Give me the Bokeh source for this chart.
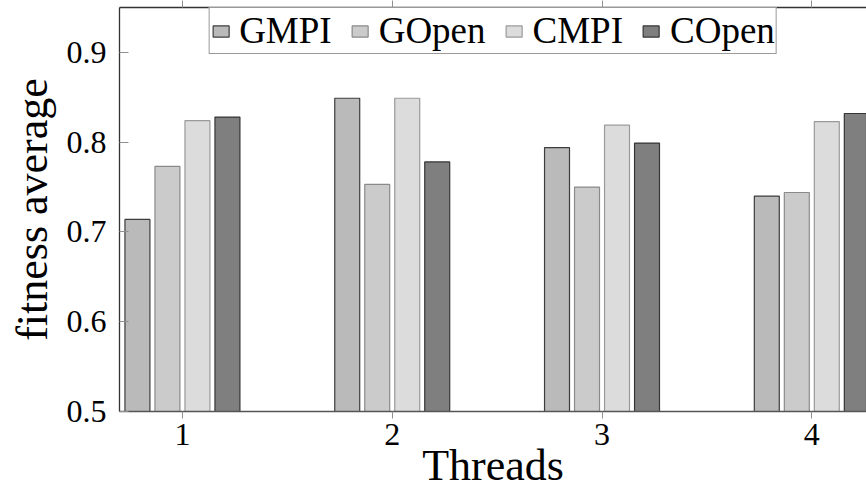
from bokeh.plotting import figure
from bokeh.models import ColumnDataSource, Range1d, FixedTicker, Legend, LegendItem, LinearAxis
from bokeh.transform import dodge
from bokeh.embed import file_html
from bokeh.resources import INLINE

threads = [1, 2, 3, 4]
gmpi = [0.714, 0.849, 0.794, 0.740]
gopen = [0.773, 0.753, 0.750, 0.744]
cmpi = [0.824, 0.849, 0.819, 0.823]
copen = [0.828, 0.778, 0.799, 0.832]
series_names = ["GMPI", "GOpen", "CMPI", "COpen"]
y_ticks = [0.5, 0.6, 0.7, 0.8, 0.9]

fills = ["#bababa", "#cbcbcb", "#dcdcdc", "#7f7f7f"]
lines = ["#3c3c3c", "#8a8a8a", "#9a9a9a", "#353535"]

src = ColumnDataSource(dict(threads=threads, GMPI=gmpi, GOpen=gopen, CMPI=cmpi, COpen=copen))

FONT = "Liberation Serif"

p = figure(output_backend="svg", toolbar_location=None,
           frame_width=747, frame_height=404,
           x_range=Range1d(0.7, 4.2607), y_range=Range1d(0.5, 0.9501),
           min_border_left=119, min_border_right=0, min_border_top=7, min_border_bottom=81)
p.outline_line_color = None
p.xgrid.visible = False
p.ygrid.visible = False
p.background_fill_color = "white"
p.border_fill_color = "white"

step = 0.143
width = 0.119
offsets = [-1.5 * step, -0.5 * step, 0.5 * step, 1.5 * step]
renderers = []
for name, off, fc, lc in zip(series_names, offsets, fills, lines):
    r = p.vbar(x=dodge("threads", off, range=p.x_range), top=name, bottom=0.5, width=width,
               source=src, fill_color=fc, line_color=lc, line_width=1.2)
    renderers.append(r)

xa = p.below[0]
ya = p.left[0]

# top frame edge with outward ticks (no labels drawn)
top = LinearAxis(ticker=FixedTicker(ticks=threads))
top.minor_tick_line_color = None
top.major_tick_in = 0
top.major_tick_out = 7
top.major_tick_line_color = "#909090"
top.axis_line_color = "#333333"
top.axis_line_width = 1.3
top.major_label_text_font_size = "0px"
top.major_label_text_color = None
top.major_label_standoff = 0
p.add_layout(top, "above")

xa.ticker = FixedTicker(ticks=threads)
xa.minor_tick_line_color = None
xa.major_tick_in = 0
xa.major_tick_out = 7
xa.major_tick_line_color = "#909090"
xa.axis_line_color = "#555555"
xa.axis_line_width = 1.3
xa.major_label_text_font = FONT
xa.major_label_text_font_size = "32px"
xa.major_label_text_color = "black"
xa.major_label_text_line_height = 1.0
xa.major_label_standoff = 5
xa.axis_label = "Threads"
xa.axis_label_text_font = FONT
xa.axis_label_text_font_size = "44px"
xa.axis_label_text_font_style = "normal"
xa.axis_label_text_color = "black"
xa.axis_label_text_line_height = 0.7
xa.axis_label_standoff = -7

ya.ticker = FixedTicker(ticks=y_ticks)
ya.minor_tick_line_color = None
ya.major_tick_in = 9
ya.major_tick_out = 0
ya.major_tick_line_color = "#909090"
ya.axis_line_color = "#333333"
ya.axis_line_width = 1.3
ya.major_label_text_font = FONT
ya.major_label_text_font_size = "32px"
ya.major_label_text_color = "black"
ya.major_label_standoff = 13
ya.axis_label = "fitness average"
ya.axis_label_text_font = FONT
ya.axis_label_text_font_size = "44px"
ya.axis_label_text_font_style = "normal"
ya.axis_label_text_color = "black"
ya.axis_label_standoff = 7

legend = Legend(items=[LegendItem(label=n, renderers=[r]) for n, r in zip(series_names, renderers)],
                orientation="horizontal", location="top_center", margin=0,
                padding=1, spacing=18, glyph_width=20, glyph_height=14, label_standoff=9,
                label_height=36, label_text_line_height=1.0,
                label_text_font=FONT, label_text_font_size="37px", label_text_color="black",
                border_line_color="#333333", border_line_width=1.3, background_fill_alpha=1.0)
p.add_layout(legend)

open("out.html", "w").write(file_html(p, INLINE))
